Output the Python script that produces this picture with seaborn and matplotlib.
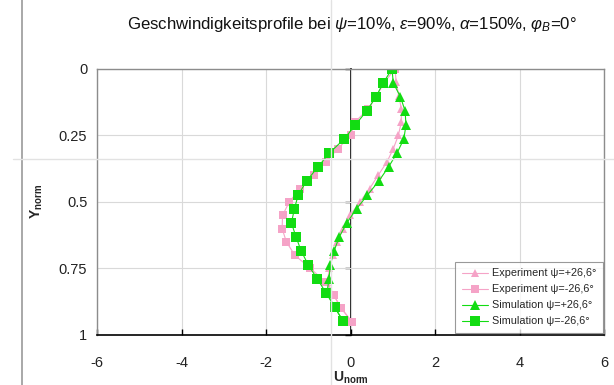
import matplotlib
matplotlib.use("Agg")
import matplotlib.pyplot as plt
import seaborn as sns
from matplotlib.lines import Line2D

# values
y_exp = [0.00, 0.05, 0.10, 0.15, 0.20, 0.25, 0.30, 0.35, 0.40, 0.45,
         0.50, 0.55, 0.60, 0.65, 0.70, 0.75, 0.80, 0.85, 0.90, 0.95]
u_exp_pos = [1.05, 1.08, 1.14, 1.20, 1.20, 1.13, 1.01, 0.86, 0.65, 0.45,
             0.22, -0.01, -0.17, -0.33, -0.42, -0.50, -0.55, -0.40, -0.22, 0.03]
u_exp_neg = [1.05, 0.80, 0.62, 0.42, 0.10, 0.00, -0.30, -0.59, -0.87, -1.20,
             -1.45, -1.61, -1.62, -1.52, -1.32, -0.95, -0.60, -0.40, -0.22, 0.03]

y_sim = [0.000, 0.053, 0.105, 0.158, 0.211, 0.263, 0.316, 0.368, 0.421, 0.474,
         0.526, 0.579, 0.632, 0.684, 0.737, 0.789, 0.842, 0.895, 0.947]
u_sim_pos = [0.98, 1.01, 1.18, 1.29, 1.31, 1.26, 1.10, 0.90, 0.67, 0.40,
             0.14, -0.09, -0.27, -0.39, -0.48, -0.51, -0.56, -0.38, -0.18]
u_sim_neg = [0.98, 0.77, 0.60, 0.38, 0.11, -0.15, -0.50, -0.77, -1.04, -1.24,
             -1.33, -1.40, -1.29, -1.17, -1.00, -0.79, -0.58, -0.38, -0.18]

x_ticks = [-6, -4, -2, 0, 2, 4, 6]
y_ticks = [0, 0.25, 0.5, 0.75, 1]
y_tick_labels = ["0", "0.25", "0.5", "0.75", "1"]

labels = ["Experiment \u03c8=+26,6\u00b0", "Experiment \u03c8=-26,6\u00b0",
          "Simulation \u03c8=+26,6\u00b0", "Simulation \u03c8=-26,6\u00b0"]

pink = "#f5a3c7"
green = "#12dc12"

sns.set_theme(style="white")
plt.rcParams["font.family"] = ["Liberation Sans", "DejaVu Sans"]
plt.rcParams["mathtext.fontset"] = "custom"
plt.rcParams["mathtext.rm"] = "Liberation Sans"
plt.rcParams["mathtext.it"] = "Liberation Sans:italic"
plt.rcParams["mathtext.bf"] = "Liberation Sans:bold"

fig = plt.figure(figsize=(6.14, 3.85), dpi=100)
ax = fig.add_axes([0.158, 0.130, 0.826, 0.691])

# experiment first, simulation drawn on top
sns.lineplot(x=u_exp_pos, y=y_exp, sort=False, estimator=None, color=pink, lw=0.8,
             marker="^", markersize=6, markeredgewidth=0, label=labels[0], ax=ax)
sns.lineplot(x=u_exp_neg, y=y_exp, sort=False, estimator=None, color=pink, lw=0.8,
             marker="s", markersize=5.5, markeredgewidth=0, label=labels[1], ax=ax)
sns.lineplot(x=u_sim_pos, y=y_sim, sort=False, estimator=None, color=green, lw=0.8,
             marker="^", markersize=7, markeredgewidth=0, label=labels[2], ax=ax)
sns.lineplot(x=u_sim_neg, y=y_sim, sort=False, estimator=None, color=green, lw=0.8,
             marker="s", markersize=6.5, markeredgewidth=0, label=labels[3], ax=ax)

ax.set_xlim(-6, 6)
ax.set_ylim(1, 0)
ax.set_xticks(x_ticks)
ax.set_xticklabels([str(t) for t in x_ticks])
ax.set_yticks(y_ticks)
ax.set_yticklabels(y_tick_labels)
ax.grid(True, color="#d9d9d9", lw=0.8)
ax.set_axisbelow(True)

for side in ["top", "right", "left"]:
    ax.spines[side].set_color("#8c8c8c")
    ax.spines[side].set_linewidth(1)
ax.spines["bottom"].set_color("black")
ax.spines["bottom"].set_linewidth(1.2)

ax.tick_params(axis="y", length=0, labelsize=10.5, pad=7, colors="#222222")
ax.tick_params(axis="x", direction="in", length=4, width=1, color="black",
               labelsize=10.5, pad=15, labelcolor="#222222", bottom=True)

# the vertical value axis crosses at x = 0
sec = ax.secondary_yaxis(0.5)
sec.set_alignment("left")
sec.set_yticks(y_ticks, labels=[""] * len(y_ticks))
sec.tick_params(axis="y", direction="out", length=4, width=1, color="black")
for sp in sec.spines.values():
    sp.set_color("black")
    sp.set_linewidth(1.2)

ax.set_xlabel(r"$\mathbf{U_{norm}}$", fontsize=10, labelpad=0)
ax.set_ylabel(r"$\mathbf{Y_{norm}}$", fontsize=10, labelpad=10)

fig.text(0.573, 1 - 25 / 385,
         r"Geschwindigkeitsprofile bei $\psi$=10%, $\varepsilon$=90%, $\alpha$=150%, $\varphi_B$=0°",
         ha="center", va="center", fontsize=12.1, color="#111111")

leg = ax.legend(loc="lower right", bbox_to_anchor=(0.998, 0.008), borderaxespad=0,
                fontsize=7.8, frameon=True, fancybox=False, handlelength=2.4,
                labelspacing=0.55, borderpad=0.6, handletextpad=0.4)
leg.get_frame().set_edgecolor("#808080")
leg.get_frame().set_linewidth(0.8)

# faint guide lines present in the original screenshot
fig.add_artist(Line2D([22 / 614, 22 / 614], [0, 1], transform=fig.transFigure,
                      color="#9a9a9a", lw=1.2))
fig.add_artist(Line2D([331 / 614, 331 / 614], [0, 1], transform=fig.transFigure,
                      color="#e2e2e2", lw=1))
fig.add_artist(Line2D([13 / 614, 1], [1 - 159 / 385] * 2, transform=fig.transFigure,
                      color="#e2e2e2", lw=1))

fig.savefig("out.png", dpi=100)
